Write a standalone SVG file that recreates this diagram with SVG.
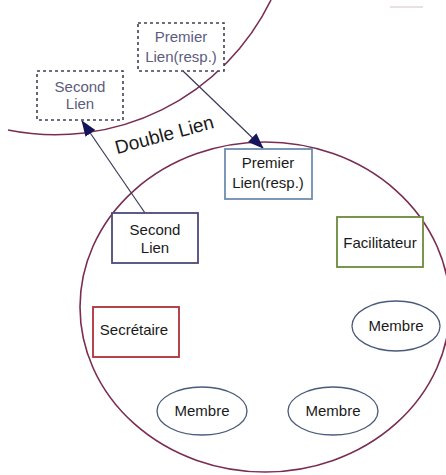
<svg xmlns="http://www.w3.org/2000/svg" width="446" height="475" viewBox="0 0 446 475">
<defs>
<style>
text{font-family:"Liberation Sans",Arial,sans-serif;font-size:15px;fill:#1a1a1a;text-anchor:middle}
.ghost{fill:#5c5c7e}
.circ{fill:none;stroke:#7a2d52;stroke-width:1.6}
.dash{fill:#fff;stroke:#404058;stroke-width:1.6;stroke-dasharray:3 3}
.box{fill:#fff;stroke-width:1.8}
.memb{fill:#fff;stroke:#4a5a7a;stroke-width:1.3}
.conn{stroke:#3a3a5a;stroke-width:1.2;fill:none}
</style>
<marker id="ah" viewBox="0 0 16 12" refX="15" refY="6" markerWidth="16" markerHeight="12" markerUnits="userSpaceOnUse" orient="auto">
<path d="M0,0 L16,6 L0,12 Z" fill="#15155e"/>
</marker>
</defs>
<rect width="446" height="475" fill="#fff"/>
<g id="outer-circle">
<path class="circ" d="M8,130 A240,240 0 0 0 271,0"/>
<line x1="390" y1="7" x2="423" y2="7" stroke="#b89aa8" stroke-width="1" opacity="0.6"/>
</g>
<g id="inner-circle">
<ellipse class="circ" cx="265" cy="307" rx="185" ry="165"/>
</g>
<g id="connectors">
<line class="conn" x1="183" y1="71" x2="263" y2="148" marker-end="url(#ah)"/>
<line class="conn" x1="145" y1="213" x2="82" y2="121" marker-end="url(#ah)"/>
</g>
<g id="premier-ext">
<rect class="dash" x="138" y="23" width="86" height="48"/>
<text class="ghost" x="181" y="42">Premier</text>
<text class="ghost" x="181" y="62">Lien(resp.)</text>
</g>
<g id="second-ext">
<rect class="dash" x="37" y="71" width="86" height="49"/>
<text class="ghost" x="80" y="92">Second</text>
<text class="ghost" x="80" y="109">Lien</text>
</g>
<g id="double-lien">
<text x="166" y="141" transform="rotate(-15 166 141)" style="font-size:19px">Double Lien</text>
</g>
<g id="premier">
<rect class="box" x="225" y="149" width="87" height="50" stroke="#6f8cae"/>
<text x="268" y="168">Premier</text>
<text x="268" y="188">Lien(resp.)</text>
</g>
<g id="second">
<rect class="box" x="112" y="213" width="86" height="50" stroke="#4a4a78"/>
<text x="155" y="235">Second</text>
<text x="155" y="253">Lien</text>
</g>
<g id="facilitateur">
<rect class="box" x="337" y="217" width="86" height="50" stroke="#6b8a3c"/>
<text x="380" y="248">Facilitateur</text>
</g>
<g id="secretaire">
<rect class="box" x="93" y="307" width="86" height="50" stroke="#b0303a"/>
<text x="134" y="335">Secrétaire</text>
</g>
<g id="membre1">
<ellipse class="memb" cx="396" cy="326" rx="44" ry="25"/>
<text x="396" y="331">Membre</text>
</g>
<g id="membre2">
<ellipse class="memb" cx="202" cy="411" rx="45" ry="24"/>
<text x="202" y="416">Membre</text>
</g>
<g id="membre3">
<ellipse class="memb" cx="333" cy="411" rx="45" ry="24"/>
<text x="333" y="416">Membre</text>
</g>
</svg>
